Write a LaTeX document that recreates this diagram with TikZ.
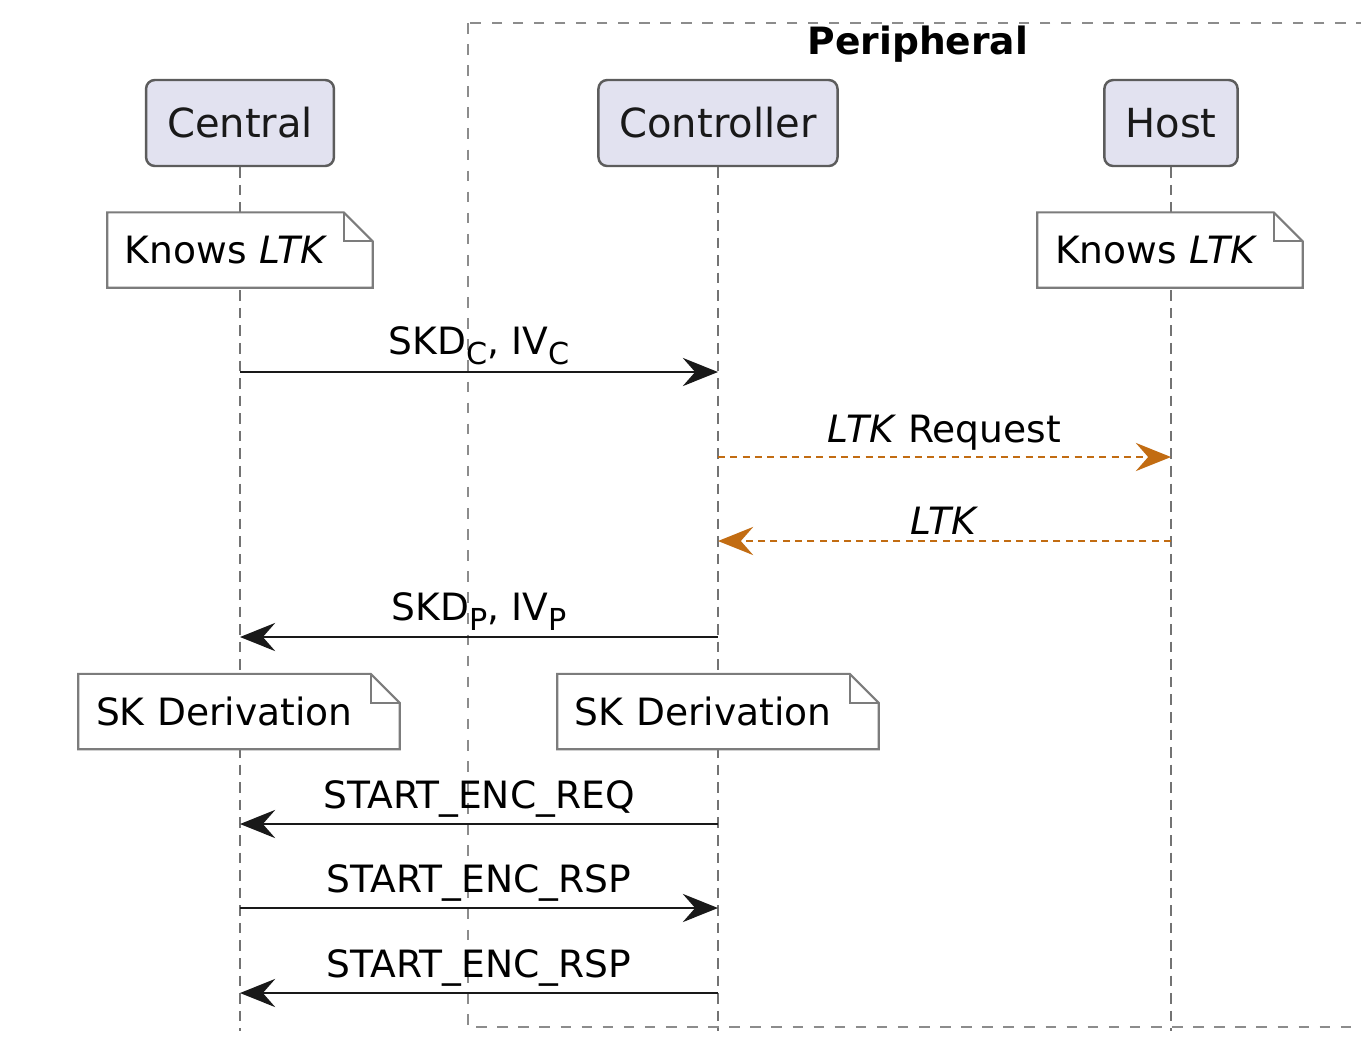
\documentclass[tikz,border=0pt]{standalone}
\usepackage{fontspec}
\setmainfont{DejaVu Sans}
\usetikzlibrary{arrows.meta,calc}

\definecolor{actorfill}{HTML}{E2E2F0}
\definecolor{actorline}{HTML}{5C5C5C}
\definecolor{noteline}{HTML}{7C7C7C}
\definecolor{hostmsg}{HTML}{C26C12}

\newcommand\lowsub[1]{\raisebox{-0.5ex}{\fontsize{8.6}{9}\selectfont #1}}

\tikzset{
  actorbox/.style={draw=actorline, fill=actorfill, rounded corners=2.5pt, line width=0.7pt,
    minimum height=0.86cm, inner xsep=0.21cm, text=black!90, font=\fontsize{11.4}{13}\selectfont},
  notebox/.style={minimum height=0.74cm, inner xsep=0.17cm, align=left, fill=white,
    font=\fontsize{10.7}{12}\selectfont},
  lifeline/.style={draw=black!55, line width=0.5pt, dash pattern=on 3pt off 2pt},
  msgline/.style={draw=black!90, line width=0.8pt, -{Stealth[length=10pt,width=8pt,inset=3.5pt]}},
  hostline/.style={msgline, draw=hostmsg, line width=0.6pt, dash pattern=on 2pt off 1.5pt},
  msglabel/.style={midway, above, inner ysep=1.5pt, font=\fontsize{10.7}{12}\selectfont}
}

\begin{document}
\begin{tikzpicture}

%picture info
\def\fold{0.29}
\def\bottom{10.30}
\useasboundingbox (0,0) rectangle (13.61,-10.58);
\clip (0,0) rectangle (13.61,-10.58);
\fill[white] (0,0) rectangle (13.61,-10.58);

%peripheral group
\draw[black!45, line width=0.6pt, dash pattern=on 3pt off 3pt] (4.68,-0.23) rectangle (14.0,-10.27);
\node[font=\fontsize{10.7}{12}\selectfont\bfseries] (Peripheral) at (9.18,-0.44) {Peripheral};

%participants
\node[actorbox] (Central)    at (2.40,-1.23)  {Central};
\node[actorbox] (Controller) at (7.18,-1.23)  {Controller};
\node[actorbox] (Host)       at (11.71,-1.23) {Host};

%lifelines
\foreach \p in {Central,Controller,Host}{
    \coordinate (\p-end) at ($(\p.south)+(0,-\bottom+1.66)$);
    \draw[lifeline] (\p.south) -- (\p-end);
}

%notes
\node[notebox, text width=2.30cm] (KnowsC) at (2.40,-2.50)  {Knows \textit{LTK}};
\node[notebox, text width=2.30cm] (KnowsH) at (11.70,-2.50) {Knows \textit{LTK}};
\node[notebox, text width=2.86cm] (DeriveC) at (2.39,-7.115) {SK Derivation};
\node[notebox, text width=2.86cm] (DeriveP) at (7.18,-7.115) {SK Derivation};
\foreach \n in {KnowsC,KnowsH,DeriveC,DeriveP}{
    \draw[noteline, line width=0.6pt] (\n.south west) -- (\n.north west) -- ($(\n.north east)+(-\fold,0)$)
        -- ($(\n.north east)+(0,-\fold)$) -- (\n.south east) -- cycle;
    \draw[noteline, line width=0.6pt] ($(\n.north east)+(-\fold,0)$) |- ($(\n.north east)+(0,-\fold)$);
}

%message rows
\foreach \r/\y in {1/3.72,2/4.57,3/5.41,4/6.37,5/8.24,6/9.08,7/9.93}{
    \coordinate (cen\r) at ($(Central.south |- 0,-\y)$);
    \coordinate (ctl\r) at ($(Controller.south |- 0,-\y)$);
    \coordinate (hst\r) at ($(Host.south |- 0,-\y)$);
}

%draw messages
\draw[msgline]  (cen1) -- (ctl1) node[msglabel]{SKD\lowsub{C}, IV\lowsub{C}};
\draw[hostline] (ctl2) -- (hst2) node[msglabel]{\textit{LTK} Request};
\draw[hostline] (hst3) -- (ctl3) node[msglabel]{\textit{LTK}};
\draw[msgline]  (ctl4) -- (cen4) node[msglabel]{SKD\lowsub{P}, IV\lowsub{P}};
\draw[msgline]  (ctl5) -- (cen5) node[msglabel]{START\_ENC\_REQ};
\draw[msgline]  (cen6) -- (ctl6) node[msglabel]{START\_ENC\_RSP};
\draw[msgline]  (ctl7) -- (cen7) node[msglabel]{START\_ENC\_RSP};

\end{tikzpicture}
\end{document}
